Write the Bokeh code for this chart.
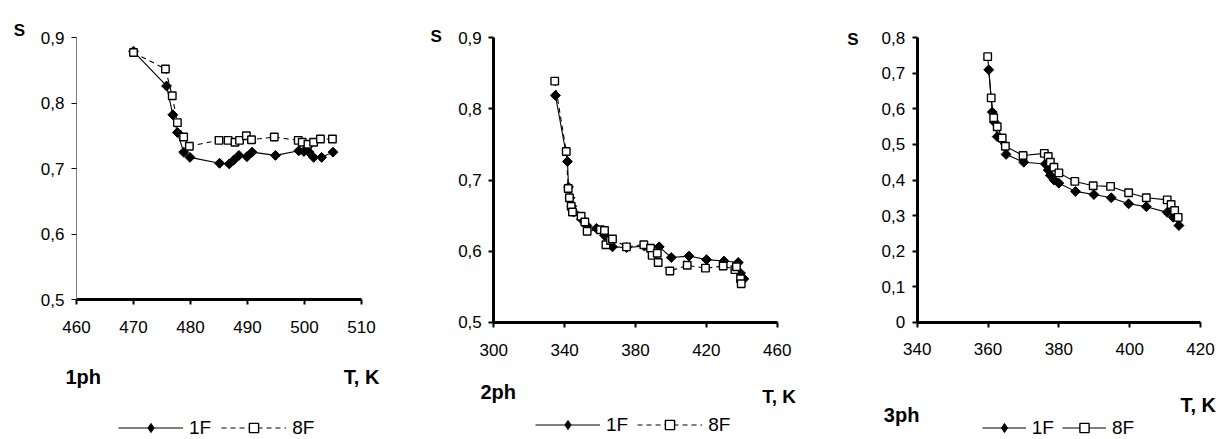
import math
from bokeh.plotting import figure
from bokeh.layouts import row
from bokeh.models import Label, Legend, LegendItem, FixedTicker, CustomJSTickFormatter, Range1d
from bokeh.embed import file_html
from bokeh.resources import INLINE

# ---------------- data ----------------
# Panel 1ph
t1_1F = [470, 475.8, 476.9, 477.7, 478.8, 479.9, 485.1, 486.8, 487.6, 488.5, 489.9, 490.8, 494.9, 499.0, 499.9, 500.8, 501.6, 503.0, 505.0]
s1_1F = [0.879, 0.826, 0.782, 0.755, 0.725, 0.717, 0.708, 0.707, 0.713, 0.720, 0.718, 0.725, 0.720, 0.727, 0.726, 0.725, 0.717, 0.717, 0.725]
t1_8F = [470, 475.6, 476.8, 477.7, 478.8, 479.8, 485.0, 486.6, 487.8, 488.6, 489.8, 490.7, 494.7, 498.9, 499.6, 500.6, 501.6, 502.8, 504.9]
s1_8F = [0.877, 0.852, 0.811, 0.770, 0.748, 0.734, 0.743, 0.743, 0.740, 0.743, 0.750, 0.744, 0.748, 0.743, 0.740, 0.737, 0.740, 0.745, 0.745]

# Panel 2ph
t2_1F = [334.8, 341.6, 342.2, 343.0, 344.0, 345.0, 349.5, 352.5, 358.0, 362.5, 364.5, 367.0, 375.0, 385.0, 393.4, 400.2, 410.2, 420.1, 429.9, 438.0, 439.3, 441.2]
s2_1F = [0.819, 0.726, 0.690, 0.675, 0.663, 0.655, 0.645, 0.636, 0.632, 0.622, 0.610, 0.606, 0.605, 0.607, 0.606, 0.591, 0.593, 0.588, 0.586, 0.584, 0.569, 0.561]
t2_8F = [334.4, 340.9, 342.0, 342.7, 343.7, 344.4, 349.3, 351.4, 352.7, 360.2, 362.5, 363.3, 365.9, 367.0, 374.9, 384.7, 388.5, 389.4, 392.3, 392.8, 399.4, 409.2, 419.5, 429.5, 436.1, 437.0, 439.3, 439.7]
s2_8F = [0.839, 0.740, 0.688, 0.675, 0.663, 0.655, 0.649, 0.641, 0.628, 0.630, 0.629, 0.609, 0.615, 0.617, 0.606, 0.609, 0.604, 0.594, 0.597, 0.584, 0.572, 0.580, 0.576, 0.579, 0.574, 0.578, 0.561, 0.554]

# Panel 3ph
t3_1F = [360.2, 361.2, 361.8, 362.6, 365.1, 370.1, 376.2, 377.0, 377.6, 378.6, 380.0, 384.7, 389.9, 394.8, 399.7, 404.7, 410.6, 412.3, 413.9]
s3_1F = [0.710, 0.591, 0.563, 0.522, 0.472, 0.450, 0.445, 0.428, 0.413, 0.400, 0.391, 0.368, 0.359, 0.350, 0.333, 0.325, 0.309, 0.295, 0.272]
t3_8F = [359.9, 360.9, 361.6, 362.6, 364.0, 364.9, 369.9, 375.9, 377.0, 377.6, 378.6, 380.0, 384.5, 389.7, 394.6, 399.7, 404.7, 410.6, 411.7, 412.7, 413.7]
s3_8F = [0.747, 0.631, 0.575, 0.550, 0.518, 0.495, 0.469, 0.475, 0.466, 0.450, 0.436, 0.420, 0.396, 0.384, 0.382, 0.364, 0.350, 0.344, 0.331, 0.314, 0.295]

x_ticks_1 = [460, 470, 480, 490, 500, 510]
x_ticks_2 = [300, 340, 380, 420, 460]
x_ticks_3 = [340, 360, 380, 400, 420]
y_ticks_12 = [0.5, 0.6, 0.7, 0.8, 0.9]
y_ticks_3 = [0, 0.1, 0.2, 0.3, 0.4, 0.5, 0.6, 0.7, 0.8]
series_names = ["1F", "8F"]
panel_names = ["1ph", "2ph", "3ph"]

FONT = "Liberation Sans"
H = 439
fmt_code = "if (Math.abs(tick) < 1e-9) { return '0'; } return tick.toFixed(1).replace('.', ',');"


def lin_range(v0, v1, p0, p1, size):
    k = (v1 - v0) / (p1 - p0)
    return Range1d(start=v0 - p0 * k, end=v0 + (size - p0) * k)


def panel(W, box, xr, yr, xt, yt, t1, s1, t2, s2, dash8, name, labels, leg_pos,
          glyph_w, spacing, thin_y=False, xstand=13):
    left, right, top, bottom = box
    p = figure(width=W, height=H, min_border=0,
               x_range=lin_range(xr[0], xr[1], left, right, W),
               y_range=lin_range(yr[0], yr[1], H - bottom, H - top, H),
               output_backend="svg", toolbar_location=None, tools="")
    p.min_border_left = p.min_border_right = p.min_border_top = p.min_border_bottom = 0
    p.outline_line_color = None
    p.grid.visible = False
    p.background_fill_color = "white"
    p.border_fill_color = "white"
    for ax in (p.xaxis[0], p.yaxis[0]):
        ax.major_label_text_font = FONT
        ax.major_label_text_font_size = "17px"
        ax.major_label_text_color = "black"
        ax.minor_tick_line_color = None
        ax.axis_line_color = "black"
        ax.major_tick_line_color = "black"
        ax.major_tick_in = 0
        ax.major_tick_out = 5
    xa = p.xaxis[0]
    xa.ticker = FixedTicker(ticks=xt)
    xa.fixed_location = yr[0]
    xa.bounds = xr
    xa.axis_line_width = 3
    xa.major_tick_line_width = 2
    xa.major_label_standoff = xstand
    ya = p.yaxis[0]
    ya.ticker = FixedTicker(ticks=yt)
    ya.formatter = CustomJSTickFormatter(code=fmt_code)
    ya.fixed_location = xr[0]
    ya.bounds = yr
    ya.major_label_standoff = 7
    if thin_y:
        ya.axis_line_width = 1
        ya.axis_line_color = "#7f7f7f"
        ya.major_tick_line_width = 1
    else:
        ya.axis_line_width = 3
        ya.major_tick_line_width = 2

    l1 = p.line(t1, s1, line_color="black", line_width=1.1)
    # plain diamonds (used as legend sample), hidden under the rotated squares below
    d1 = p.scatter(t1, s1, marker="diamond", size=8, fill_color="black", line_color="black")
    p.scatter(t1, s1, marker="square", angle=math.pi / 4, size=7,
              fill_color="black", line_color="black", line_width=1)
    l2 = p.line(t2, s2, line_color="black", line_width=1.1, line_dash=dash8)
    m2 = p.scatter(t2, s2, marker="square", size=7.5, fill_color="white",
                   line_color="black", line_width=1.4)

    for txt, (x, y, fs) in zip(["S", name, "T, K"], labels):
        p.add_layout(Label(x=x, y=y, x_units="screen", y_units="screen", text=txt,
                           text_font=FONT, text_font_size=fs, text_font_style="bold",
                           text_color="black", text_baseline="alphabetic", text_align="left"))

    leg = Legend(items=[LegendItem(label=series_names[0], renderers=[l1, d1]),
                        LegendItem(label=series_names[1], renderers=[l2, m2])],
                 location=leg_pos, orientation="horizontal",
                 glyph_width=glyph_w, glyph_height=23, label_standoff=6, spacing=spacing,
                 padding=0, margin=0, border_line_color=None, background_fill_alpha=0,
                 label_text_font=FONT, label_text_font_size="19px", label_text_color="black",
                 label_height=23)
    p.add_layout(leg)
    return p


p1 = panel(408, (76, 361, 37, 299), (460, 510), (0.5, 0.9), x_ticks_1, y_ticks_12,
           t1_1F, s1_1F, t1_8F, s1_8F, "5 4", panel_names[0],
           [(13.3, H - 30, "17px"), (65, H - 376.7, "20px"), (343.3, H - 376.7, "20px")],
           (118, 0), 65, 10, thin_y=True, xstand=16)
p2 = panel(412, (85.3, 368.7, 37.3, 321.7), (300, 460), (0.5, 0.9), x_ticks_2, y_ticks_12,
           t2_1F, s2_1F, t2_8F, s2_8F, "5 4", panel_names[1],
           [(22, H - 36, "17px"), (72, H - 391.7, "20px"), (353.7, H - 396, "19px")],
           (127, 3), 65, 9, xstand=17)
p3 = panel(404, (96.7, 380, 37.3, 321.7), (340, 420), (0, 0.8), x_ticks_3, y_ticks_3,
           t3_1F, s3_1F, t3_8F, s3_8F, "solid", panel_names[2],
           [(26.7, H - 39.3, "17px"), (63.3, H - 414, "20px"), (360, H - 404, "20px")],
           (161.7, 0), 44, 8, xstand=16)

layout = row(p1, p2, p3, spacing=0)
open("out.html", "w").write(file_html(layout, INLINE))
